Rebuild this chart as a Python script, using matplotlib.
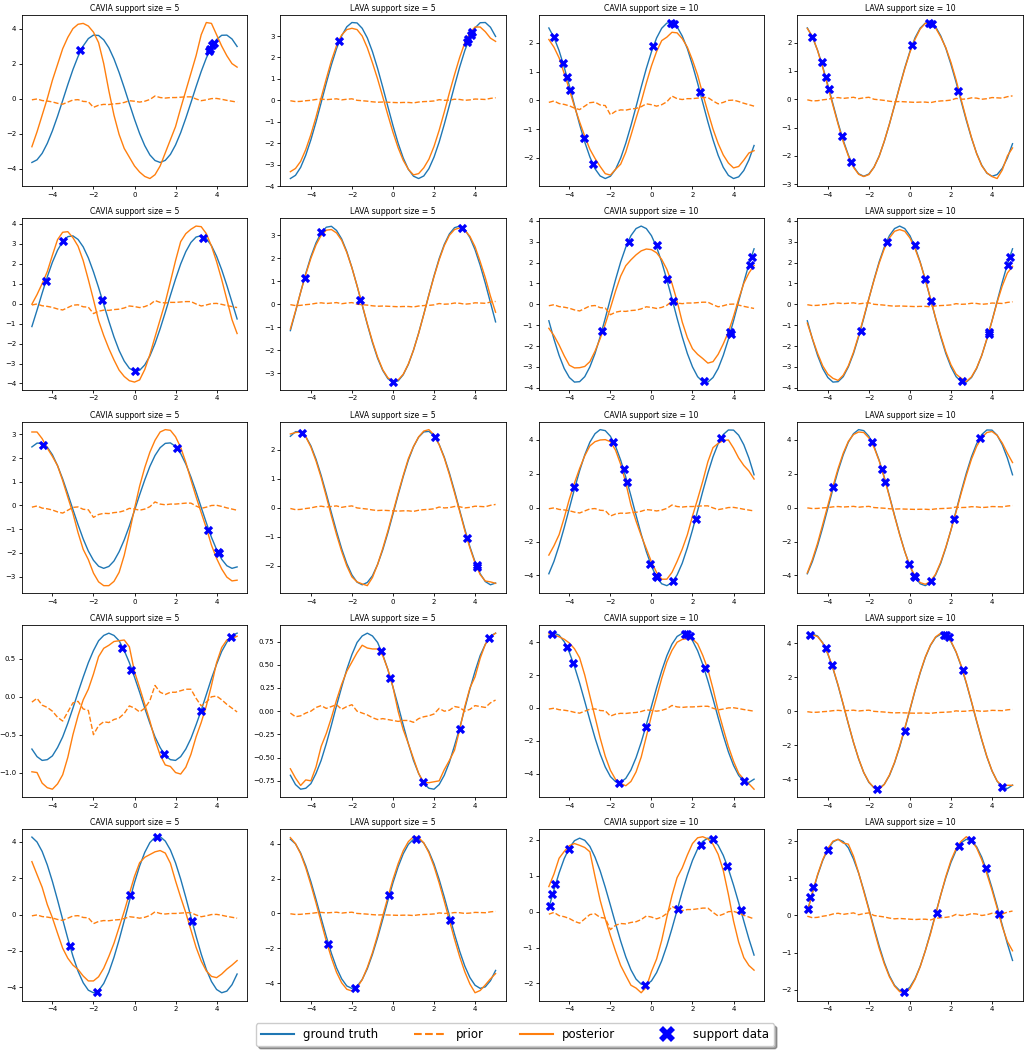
import numpy as np
import matplotlib
matplotlib.use("Agg")
import matplotlib.pyplot as plt
from matplotlib.lines import Line2D

x_grid = np.linspace(-5, 5, 41)

titles = ["CAVIA support size = 5", "LAVA support size = 5",
          "CAVIA support size = 10", "LAVA support size = 10"]

# --- ground truth (one task for size 5 columns, one for size 10 columns) ---
truth_r1_a = [-3.65, -3.50, -3.13, -2.56, -1.84, -1.01, -0.11, 0.80, 1.66, 2.41, 3.01, 3.43, 3.63, 3.61, 3.36, 2.91, 2.27, 1.49, 0.62, -0.29, -1.18, -2.00, -2.69, -3.22, -3.54, -3.65, -3.53, -3.19, -2.65, -1.95, -1.12, -0.23, 0.68, 1.55, 2.32, 2.94, 3.38, 3.62, 3.63, 3.41, 2.98]
truth_r1_b = [2.52, 2.19, 1.73, 1.15, 0.51, -0.17, -0.84, -1.45, -1.97, -2.38, -2.63, -2.72, -2.64, -2.40, -2.01, -1.49, -0.88, -0.22, 0.46, 1.11, 1.69, 2.17, 2.51, 2.69, 2.71, 2.56, 2.24, 1.80, 1.23, 0.60, -0.08, -0.75, -1.37, -1.91, -2.33, -2.61, -2.72, -2.66, -2.44, -2.07, -1.57]
truth_r2_a = [-1.15, -0.33, 0.52, 1.34, 2.07, 2.67, 3.11, 3.35, 3.39, 3.21, 2.84, 2.29, 1.59, 0.80, -0.04, -0.88, -1.67, -2.35, -2.88, -3.24, -3.39, -3.34, -3.07, -2.62, -2.00, -1.26, -0.44, 0.41, 1.23, 1.98, 2.60, 3.06, 3.33, 3.40, 3.25, 2.90, 2.37, 1.69, 0.91, 0.07, -0.77]
truth_r2_b = [-0.79, -1.67, -2.45, -3.08, -3.51, -3.73, -3.71, -3.47, -3.00, -2.36, -1.56, -0.67, 0.27, 1.18, 2.03, 2.74, 3.29, 3.63, 3.75, 3.63, 3.29, 2.74, 2.03, 1.18, 0.27, -0.67, -1.56, -2.36, -3.00, -3.47, -3.71, -3.73, -3.51, -3.08, -2.45, -1.67, -0.79, 0.14, 1.06, 1.92, 2.66]
truth_r3_a = [2.47, 2.63, 2.63, 2.46, 2.14, 1.68, 1.12, 0.49, -0.17, -0.81, -1.41, -1.92, -2.31, -2.56, -2.65, -2.57, -2.34, -1.95, -1.45, -0.86, -0.21, 0.45, 1.08, 1.65, 2.11, 2.44, 2.62, 2.64, 2.49, 2.19, 1.75, 1.20, 0.58, -0.08, -0.73, -1.34, -1.86, -2.27, -2.54, -2.65, -2.59]
truth_r3_b = [-3.90, -3.17, -2.24, -1.18, -0.04, 1.10, 2.17, 3.10, 3.85, 4.35, 4.59, 4.53, 4.20, 3.61, 2.79, 1.79, 0.69, -0.46, -1.57, -2.59, -3.45, -4.10, -4.49, -4.60, -4.42, -3.97, -3.28, -2.37, -1.32, -0.19, 0.95, 2.03, 2.99, 3.76, 4.30, 4.57, 4.56, 4.26, 3.70, 2.91, 1.93]
truth_r4_a = [-0.69, -0.79, -0.84, -0.83, -0.78, -0.67, -0.53, -0.35, -0.15, 0.06, 0.26, 0.45, 0.61, 0.74, 0.81, 0.84, 0.81, 0.74, 0.61, 0.45, 0.26, 0.06, -0.15, -0.35, -0.53, -0.67, -0.78, -0.83, -0.84, -0.79, -0.69, -0.55, -0.37, -0.18, 0.03, 0.24, 0.43, 0.60, 0.72, 0.81, 0.84]
truth_r4_b = [4.39, 4.55, 4.43, 4.03, 3.38, 2.52, 1.51, 0.40, -0.74, -1.83, -2.80, -3.60, -4.18, -4.49, -4.53, -4.29, -3.78, -3.03, -2.10, -1.03, 0.09, 1.22, 2.26, 3.17, 3.88, 4.35, 4.54, 4.46, 4.10, 3.48, 2.65, 1.65, 0.55, -0.59, -1.68, -2.68, -3.50, -4.11, -4.47, -4.54, -4.34]
truth_r5_a = [4.26, 3.99, 3.47, 2.73, 1.82, 0.80, -0.27, -1.32, -2.29, -3.12, -3.75, -4.16, -4.30, -4.18, -3.79, -3.17, -2.35, -1.39, -0.34, 0.73, 1.76, 2.67, 3.42, 3.96, 4.25, 4.28, 4.04, 3.55, 2.84, 1.95, 0.94, -0.13, -1.19, -2.17, -3.02, -3.68, -4.12, -4.30, -4.21, -3.86, -3.27]
truth_r5_b = [0.11, 0.61, 1.08, 1.48, 1.78, 1.98, 2.05, 1.99, 1.82, 1.52, 1.14, 0.68, 0.18, -0.33, -0.82, -1.26, -1.62, -1.88, -2.02, -2.04, -1.93, -1.70, -1.37, -0.95, -0.47, 0.04, 0.55, 1.02, 1.43, 1.75, 1.96, 2.05, 2.01, 1.85, 1.57, 1.19, 0.74, 0.25, -0.26, -0.76, -1.21]

# --- priors (model output before adaptation, same in every panel) ---
cavia_prior = [-0.07, -0.02, -0.11, -0.14, -0.19, -0.27, -0.32, -0.20, -0.08, -0.06, -0.16, -0.18, -0.50, -0.38, -0.33, -0.34, -0.30, -0.28, -0.22, -0.12, -0.15, -0.20, -0.15, -0.05, 0.15, 0.06, 0.03, 0.06, 0.06, 0.08, 0.10, 0.10, -0.02, -0.12, -0.07, 0.00, 0.01, -0.04, -0.10, -0.15, -0.20]
lava_prior = [-0.02, -0.06, -0.05, -0.02, 0.00, 0.04, 0.06, 0.03, 0.05, 0.07, 0.02, 0.05, 0.07, 0.00, -0.02, -0.04, -0.07, -0.09, -0.08, -0.09, -0.10, -0.11, -0.10, -0.10, -0.12, -0.08, -0.06, -0.05, -0.03, 0.03, 0.00, 0.01, 0.05, 0.04, 0.00, 0.02, 0.06, 0.05, 0.04, 0.09, 0.12]

# --- CAVIA posteriors ---
post_r1c1 = [-2.75, -1.9, -0.95, 0.0, 1.05, 1.95, 2.85, 3.5, 4.0, 4.25, 4.3, 4.15, 3.8, 3.2, 2.0, 0.45, -0.95, -2.05, -2.85, -3.35, -3.85, -4.2, -4.45, -4.57, -4.35, -3.85, -3.1, -2.35, -1.6, -0.55, 0.45, 1.45, 2.45, 3.65, 4.35, 4.3, 3.65, 3.0, 2.45, 2.0, 1.8]
post_r1c3 = [2.12, 1.85, 1.48, 0.93, 0.38, -0.22, -0.75, -1.25, -1.7, -2.02, -2.3, -2.55, -2.6, -2.4, -2.22, -1.8, -1.22, -0.62, -0.05, 0.6, 1.2, 1.7, 2.08, 2.2, 2.37, 2.35, 2.15, 1.85, 1.4, 0.88, 0.22, -0.4, -1.0, -1.5, -1.9, -2.18, -2.35, -2.3, -2.08, -1.83, -1.75]
post_r2c1 = [-0.03, 0.45, 1.0, 1.6, 2.42, 3.2, 3.57, 3.6, 3.3, 2.87, 2.15, 1.2, 0.2, -0.85, -1.6, -2.25, -2.82, -3.33, -3.65, -3.86, -3.93, -3.82, -3.3, -2.55, -1.67, -0.8, 0.07, 1.1, 2.15, 3.1, 3.5, 3.72, 3.88, 3.85, 3.5, 2.88, 2.1, 1.2, 0.2, -0.8, -1.5]
post_r2c3 = [-1.15, -1.5, -1.95, -2.47, -2.92, -3.05, -3.04, -2.98, -2.75, -2.25, -1.65, -0.95, -0.18, 0.63, 1.35, 1.85, 2.13, 2.37, 2.56, 2.65, 2.62, 2.47, 2.15, 1.68, 1.0, 0.15, -0.85, -1.6, -2.13, -2.4, -2.6, -2.82, -2.75, -2.4, -1.9, -1.33, -0.58, 0.25, 1.0, 1.5, 1.86]
post_r3c1 = [3.1, 3.1, 2.82, 2.42, 2.07, 1.68, 1.05, 0.35, -0.33, -1.15, -1.85, -2.28, -2.85, -3.22, -3.38, -3.38, -3.2, -2.82, -2.1, -1.15, -0.13, 0.82, 1.6, 2.25, 2.75, 3.1, 3.2, 3.17, 2.9, 2.45, 1.82, 1.08, 0.37, -0.3, -0.95, -1.67, -2.23, -2.68, -3.02, -3.18, -3.15]
post_r3c3 = [-2.8, -2.25, -1.6, -0.6, 0.5, 1.45, 2.3, 3.05, 3.63, 3.88, 3.98, 4.0, 3.88, 3.38, 2.55, 1.45, 0.15, -0.8, -1.65, -2.42, -3.2, -3.82, -4.22, -4.22, -3.82, -3.17, -2.45, -1.6, -0.5, 0.5, 1.55, 2.7, 3.53, 3.78, 3.95, 3.98, 3.5, 2.92, 2.48, 2.15, 1.68]
post_r4c1 = [-0.99, -1.0, -1.14, -1.2, -1.22, -1.15, -1.03, -0.8, -0.5, -0.25, -0.04, 0.1, 0.3, 0.53, 0.64, 0.68, 0.73, 0.74, 0.75, 0.66, 0.33, 0.12, -0.1, -0.32, -0.57, -0.77, -0.9, -0.92, -1.0, -1.02, -0.93, -0.76, -0.53, -0.34, -0.12, 0.15, 0.45, 0.65, 0.75, 0.77, 0.8]
post_r4c3 = [4.51, 4.45, 4.33, 4.18, 3.95, 3.6, 3.05, 2.0, 0.72, -0.55, -1.83, -2.95, -3.8, -4.35, -4.6, -4.74, -4.48, -3.9, -3.0, -1.75, -0.47, 0.65, 1.8, 2.8, 3.5, 4.0, 4.17, 4.22, 4.2, 3.9, 3.2, 2.35, 1.16, -0.15, -1.27, -2.35, -3.25, -3.98, -4.35, -4.62, -4.95]
post_r5c1 = [2.91, 2.2, 1.5, 0.55, -0.18, -1.03, -1.85, -2.4, -2.78, -3.02, -3.38, -3.65, -3.65, -3.42, -2.95, -2.3, -1.58, -0.7, 0.18, 1.15, 2.1, 2.85, 3.15, 3.3, 3.45, 3.52, 3.38, 2.82, 1.85, 0.95, 0.1, -0.85, -1.8, -2.55, -3.1, -3.4, -3.47, -3.27, -3.0, -2.78, -2.53]
post_r5c3 = [0.7, 1.05, 1.49, 1.68, 1.84, 1.9, 1.85, 1.79, 1.67, 0.98, 0.32, -0.2, -0.67, -1.1, -1.5, -1.78, -2.05, -2.13, -2.26, -2.1, -1.67, -1.32, -0.8, -0.15, 0.45, 0.95, 1.22, 1.58, 1.9, 2.06, 2.09, 2.03, 1.88, 1.6, 1.15, 0.48, -0.26, -0.85, -1.28, -1.5, -1.63]

# --- LAVA posteriors ---
post_r1c2 = [-3.33, -3.18, -2.85, -2.3, -1.6, -0.78, 0.12, 1.0, 1.85, 2.55, 3.05, 3.3, 3.36, 3.3, 3.0, 2.45, 1.75, 1.0, 0.17, -0.68, -1.49, -2.21, -2.8, -3.22, -3.48, -3.42, -3.15, -2.75, -2.15, -1.4, -0.55, 0.35, 1.2, 2.0, 2.68, 3.15, 3.42, 3.42, 3.2, 2.9, 2.75]
post_r1c4 = [2.5, 2.22, 1.72, 1.12, 0.45, -0.22, -0.88, -1.5, -2.0, -2.4, -2.65, -2.73, -2.66, -2.4, -2.02, -1.48, -0.88, -0.22, 0.44, 1.08, 1.66, 2.12, 2.48, 2.68, 2.7, 2.52, 2.2, 1.82, 1.3, 0.68, -0.02, -0.7, -1.35, -1.92, -2.35, -2.6, -2.73, -2.8, -2.5, -2.0, -1.72]
post_r2c2 = [-1.08, -0.3, 0.52, 1.3, 2.0, 2.58, 3.0, 3.22, 3.25, 3.1, 2.78, 2.25, 1.58, 0.8, -0.02, -0.85, -1.62, -2.3, -2.85, -3.2, -3.35, -3.3, -3.05, -2.6, -2.0, -1.27, -0.45, 0.4, 1.2, 1.93, 2.55, 3.0, 3.25, 3.32, 3.22, 2.95, 2.5, 1.85, 1.15, 0.35, -0.35]
post_r2c4 = [-0.9, -1.65, -2.35, -2.95, -3.35, -3.55, -3.65, -3.4, -2.95, -2.3, -1.5, -0.62, 0.28, 1.15, 1.97, 2.66, 3.18, 3.5, 3.58, 3.5, 3.18, 2.66, 2.0, 1.18, 0.28, -0.65, -1.5, -2.28, -2.9, -3.35, -3.55, -3.7, -3.48, -3.05, -2.45, -1.65, -0.8, 0.1, 0.88, 1.5, 1.82]
post_r3c2 = [2.55, 2.6, 2.62, 2.45, 2.1, 1.62, 1.05, 0.4, -0.28, -0.92, -1.5, -2.0, -2.38, -2.55, -2.62, -2.68, -2.4, -1.95, -1.4, -0.8, -0.15, 0.5, 1.12, 1.7, 2.12, 2.45, 2.65, 2.7, 2.52, 2.18, 1.72, 1.15, 0.52, -0.12, -0.78, -1.38, -1.9, -2.3, -2.52, -2.55, -2.6]
post_r3c4 = [-3.85, -3.05, -2.1, -1.0, 0.12, 1.25, 2.3, 3.2, 3.9, 4.3, 4.45, 4.42, 4.1, 3.55, 2.75, 1.75, 0.65, -0.5, -1.6, -2.6, -3.45, -4.05, -4.42, -4.52, -4.35, -3.92, -3.22, -2.33, -1.32, -0.25, 0.85, 1.9, 2.85, 3.6, 4.12, 4.42, 4.48, 4.25, 3.8, 3.2, 2.65]
post_r4c2 = [-0.62, -0.72, -0.8, -0.74, -0.75, -0.6, -0.38, -0.24, -0.07, 0.12, 0.29, 0.43, 0.53, 0.63, 0.71, 0.68, 0.67, 0.67, 0.6, 0.45, 0.26, 0.0, -0.2, -0.35, -0.51, -0.67, -0.77, -0.77, -0.76, -0.75, -0.63, -0.53, -0.42, -0.2, 0.05, 0.25, 0.37, 0.57, 0.72, 0.8, 0.84]
post_r4c4 = [4.35, 4.5, 4.4, 4.02, 3.4, 2.55, 1.55, 0.42, -0.72, -1.82, -2.78, -3.6, -4.15, -4.5, -4.58, -4.3, -3.75, -3.0, -2.05, -0.98, 0.12, 1.25, 2.3, 3.2, 3.9, 4.38, 4.6, 4.5, 4.12, 3.5, 2.68, 1.68, 0.58, -0.55, -1.65, -2.65, -3.5, -4.1, -4.4, -4.35, -4.35]
post_r5c2 = [4.35, 4.0, 3.42, 2.62, 1.65, 0.6, -0.5, -1.58, -2.55, -3.38, -3.98, -4.35, -4.45, -4.25, -3.8, -3.1, -2.25, -1.25, -0.15, 0.92, 1.95, 2.85, 3.6, 4.12, 4.4, 4.35, 4.05, 3.48, 2.7, 1.75, 0.7, -0.4, -1.48, -2.48, -3.35, -4.05, -4.55, -4.42, -4.1, -3.75, -3.45]
post_r5c4 = [0.08, 0.62, 1.1, 1.5, 1.8, 2.0, 2.05, 1.95, 1.92, 1.6, 1.15, 0.65, 0.15, -0.38, -0.88, -1.3, -1.65, -1.9, -2.05, -2.08, -1.97, -1.72, -1.38, -0.95, -0.5, 0.02, 0.55, 1.05, 1.48, 1.8, 2.0, 2.12, 2.02, 1.82, 1.5, 1.12, 0.68, 0.2, -0.3, -0.7, -0.95]

# --- support data ---
sx_r1_5 = [-2.65, 3.62, 3.68, 3.78, 3.85]
sy_r1_5 = [2.78, 2.72, 2.85, 3.05, 3.2]
sx_r1_10 = [-4.75, -4.3, -4.1, -3.95, -3.3, -2.85, 0.1, 0.95, 1.1, 2.35]
sy_r1_10 = [2.2, 1.3, 0.8, 0.35, -1.3, -2.2, 1.9, 2.7, 2.65, 0.3]
sx_r2_5 = [-4.3, -3.5, -1.6, 0.0, 3.35]
sy_r2_5 = [1.15, 3.15, 0.18, -3.38, 3.3]
sx_r2_10 = [-2.4, -1.1, 0.25, 0.75, 1.05, 2.55, 3.85, 3.87, 4.8, 4.9]
sy_r2_10 = [-1.3, 3.0, 2.85, 1.2, 0.15, -3.7, -1.33, -1.42, 1.9, 2.25]
sx_r3_5 = [-4.45, 2.05, 3.6, 4.08, 4.1]
sy_r3_5 = [2.57, 2.43, -1.02, -1.98, -2.02]
sx_r3_10 = [-3.75, -1.85, -1.35, -1.2, -0.05, 0.2, 0.25, 1.05, 2.15, 3.4]
sy_r3_10 = [1.2, 3.85, 2.25, 1.5, -3.35, -4.03, -4.08, -4.35, -0.7, 4.1]
sx_r4_5 = [-0.6, -0.15, 1.45, 3.25, 4.7]
sy_r4_5 = [0.65, 0.36, -0.76, -0.19, 0.79]
sx_r4_10 = [-4.85, -4.1, -3.8, -1.6, -0.25, 1.65, 1.75, 1.9, 2.6, 4.5]
sy_r4_10 = [4.52, 3.7, 2.75, -4.55, -1.15, 4.52, 4.5, 4.35, 2.45, -4.45]
sx_r5_5 = [-3.15, -1.85, -0.2, 1.1, 2.8]
sy_r5_5 = [-1.75, -4.25, 1.08, 4.28, -0.35]
sx_r5_10 = [-4.95, -4.85, -4.7, -4.0, -0.3, 1.3, 2.4, 3.0, 3.7, 4.35]
sy_r5_10 = [0.17, 0.5, 0.78, 1.76, -2.05, 0.07, 1.87, 2.02, 1.27, 0.05]

truths = [[truth_r1_a, truth_r1_b], [truth_r2_a, truth_r2_b], [truth_r3_a, truth_r3_b],
          [truth_r4_a, truth_r4_b], [truth_r5_a, truth_r5_b]]
posts = [[post_r1c1, post_r1c2, post_r1c3, post_r1c4],
         [post_r2c1, post_r2c2, post_r2c3, post_r2c4],
         [post_r3c1, post_r3c2, post_r3c3, post_r3c4],
         [post_r4c1, post_r4c2, post_r4c3, post_r4c4],
         [post_r5c1, post_r5c2, post_r5c3, post_r5c4]]
supports = [[(sx_r1_5, sy_r1_5), (sx_r1_10, sy_r1_10)],
            [(sx_r2_5, sy_r2_5), (sx_r2_10, sy_r2_10)],
            [(sx_r3_5, sy_r3_5), (sx_r3_10, sy_r3_10)],
            [(sx_r4_5, sy_r4_5), (sx_r4_10, sy_r4_10)],
            [(sx_r5_5, sy_r5_5), (sx_r5_10, sy_r5_10)]]

fig, axes = plt.subplots(5, 4, figsize=(10.3, 10.51), dpi=100)
fig.subplots_adjust(left=0.021, right=0.993, top=0.986, bottom=0.048,
                    wspace=0.145, hspace=0.186)

for r in range(5):
    for c in range(4):
        ax = axes[r, c]
        truth = truths[r][c // 2]
        prior = cavia_prior if c % 2 == 0 else lava_prior
        sx, sy = supports[r][c // 2]

        ax.plot(x_grid, truth, color="C0", lw=1.0)
        ax.plot(x_grid, prior, "--", color="C1", lw=1.0)
        ax.plot(x_grid, posts[r][c], color="C1", lw=1.0)
        ax.scatter(sx, sy, marker="X", color="blue", s=45, linewidths=0, zorder=3)

        ax.set_title(titles[c], fontsize=5.6, pad=3)
        ax.tick_params(labelsize=5, length=2.5, width=0.6, pad=1.5)
        for sp in ax.spines.values():
            sp.set_linewidth(0.6)

handles = [Line2D([], [], color="C0", lw=1.5),
           Line2D([], [], color="C1", lw=1.5, ls="--"),
           Line2D([], [], color="C1", lw=1.5),
           Line2D([], [], color="blue", marker="X", ls="none", markersize=11, markeredgewidth=0)]
labels = ["ground truth", "prior", "posterior", "support data"]
fig.legend(handles, labels, loc="center", bbox_to_anchor=(0.5, 0.0155), ncol=4,
           fontsize=8.5, shadow=True, handlelength=2.8, columnspacing=3.0)

fig.savefig("out.png", dpi=100)
